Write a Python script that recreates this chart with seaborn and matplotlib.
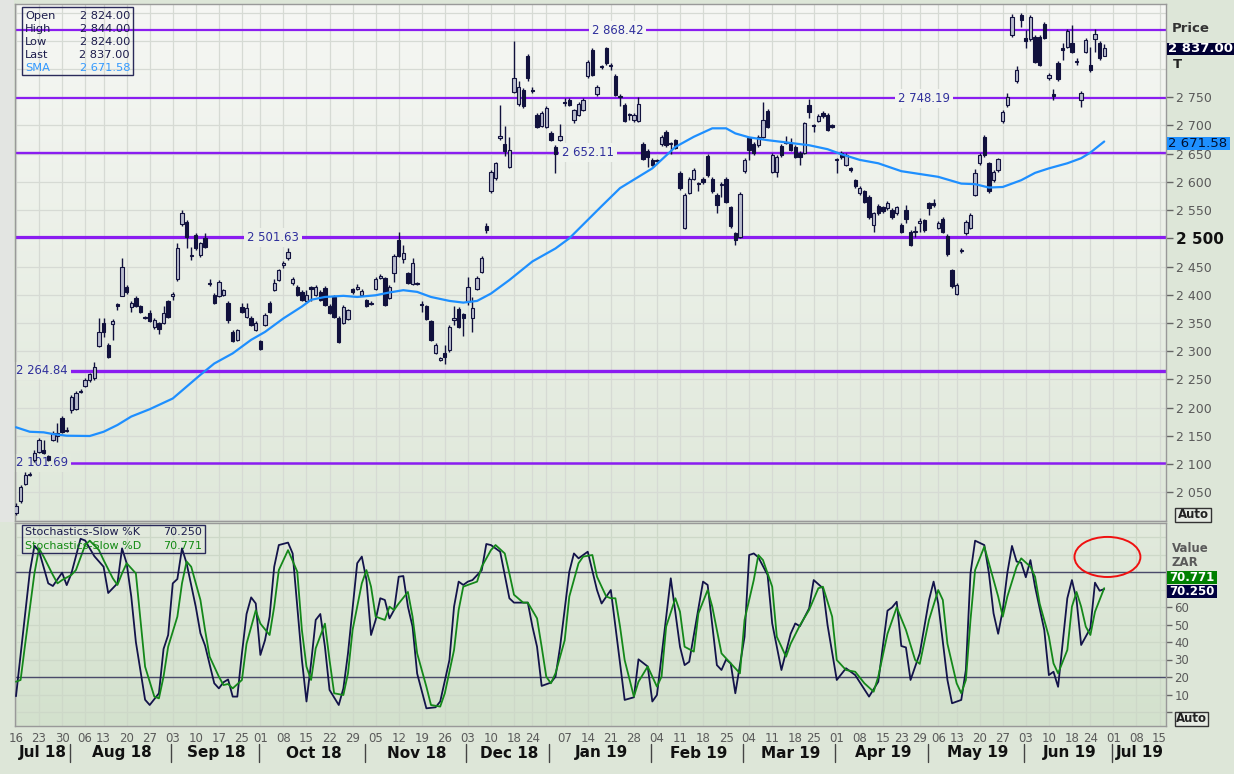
import numpy as np
import pandas as pd
import matplotlib
matplotlib.use("Agg")
import matplotlib.pyplot as plt
import matplotlib.colors as mcolors
import matplotlib.transforms as mtransforms
from matplotlib.patches import Ellipse, Rectangle
from matplotlib.lines import Line2D
import seaborn as sns

sns.set_theme(style="white")
plt.rcParams["font.family"] = ["DejaVu Sans"]

# ------------------------------------------------------------------ data
first_day = "2018-07-16"
axis_last_day = "2019-07-19"
holidays = ["2018-08-09", "2018-09-24", "2018-12-17", "2018-12-25", "2018-12-26",
            "2019-01-01", "2019-03-21", "2019-04-19", "2019-04-22", "2019-05-01",
            "2019-05-08", "2019-06-17"]

opens = [2013, 2034, 2064, 2080, 2107, 2121, 2124, 2114, 2142, 2150,
         2181, 2161, 2196, 2197, 2227, 2238, 2248, 2252, 2309, 2350,
         2311, 2348, 2383, 2398, 2414, 2378, 2394, 2380, 2360, 2368,
         2343, 2350, 2350, 2388, 2398, 2428, 2525, 2529, 2468, 2506,
         2470, 2500, 2421, 2400, 2398, 2400, 2386, 2334, 2320, 2379,
         2360, 2359, 2337, 2318, 2346, 2385, 2408, 2426, 2452, 2465,
         2421, 2414, 2405, 2388, 2413, 2400, 2405, 2412, 2380, 2396,
         2359, 2350, 2357, 2410, 2411, 2400, 2391, 2386, 2410, 2429,
         2429, 2394, 2438, 2497, 2463, 2438, 2419, 2421, 2383, 2380,
         2354, 2297, 2285, 2297, 2302, 2355, 2375, 2366, 2388, 2359,
         2410, 2441, 2521, 2583, 2607, 2677, 2667, 2627, 2760, 2738,
         2763, 2823, 2763, 2719, 2699, 2698, 2687, 2662, 2674, 2741,
         2745, 2710, 2719, 2727, 2787, 2834, 2756, 2803, 2837, 2808,
         2788, 2752, 2736, 2720, 2709, 2708, 2667, 2655, 2639, 2637,
         2667, 2689, 2668, 2674, 2616, 2518, 2581, 2606, 2598, 2605,
         2646, 2606, 2577, 2595, 2606, 2555, 2509, 2503, 2620, 2677,
         2668, 2665, 2680, 2726, 2618, 2618, 2664, 2671, 2668, 2662,
         2651, 2651, 2736, 2700, 2708, 2722, 2719, 2700, 2638, 2651,
         2630, 2624, 2603, 2580, 2583, 2573, 2524, 2557, 2555, 2553,
         2550, 2544, 2524, 2550, 2512, 2511, 2527, 2532, 2562, 2563,
         2519, 2534, 2504, 2443, 2401, 2477, 2509, 2518, 2577, 2633,
         2679, 2633, 2603, 2621, 2708, 2736, 2860, 2778, 2896, 2855,
         2853, 2857, 2857, 2880, 2784, 2755, 2811, 2837, 2840, 2847,
         2814, 2745, 2831, 2807, 2853, 2846, 2824]
highs = [2030, 2062, 2085, 2086, 2125, 2146, 2142, 2116, 2158, 2172,
         2185, 2166, 2223, 2229, 2233, 2252, 2262, 2281, 2359, 2359,
         2314, 2357, 2385, 2465, 2417, 2388, 2398, 2382, 2362, 2372,
         2358, 2352, 2380, 2391, 2405, 2491, 2550, 2532, 2485, 2510,
         2494, 2510, 2428, 2403, 2426, 2411, 2389, 2337, 2340, 2385,
         2385, 2362, 2353, 2320, 2367, 2388, 2428, 2446, 2460, 2482,
         2432, 2417, 2408, 2408, 2415, 2417, 2408, 2415, 2383, 2399,
         2362, 2382, 2375, 2412, 2419, 2410, 2393, 2388, 2431, 2436,
         2432, 2417, 2472, 2512, 2488, 2441, 2465, 2423, 2388, 2382,
         2356, 2314, 2290, 2311, 2346, 2380, 2378, 2368, 2432, 2396,
         2433, 2468, 2528, 2621, 2636, 2736, 2699, 2680, 2849, 2778,
         2766, 2826, 2768, 2722, 2726, 2734, 2690, 2665, 2703, 2748,
         2748, 2730, 2741, 2748, 2816, 2837, 2771, 2808, 2840, 2811,
         2791, 2755, 2739, 2723, 2722, 2750, 2670, 2658, 2642, 2641,
         2683, 2692, 2670, 2676, 2619, 2580, 2608, 2625, 2600, 2608,
         2649, 2609, 2580, 2599, 2609, 2558, 2512, 2582, 2642, 2680,
         2671, 2683, 2742, 2729, 2651, 2647, 2667, 2682, 2678, 2665,
         2654, 2707, 2747, 2702, 2720, 2725, 2722, 2702, 2642, 2654,
         2651, 2627, 2606, 2592, 2586, 2576, 2547, 2560, 2558, 2566,
         2553, 2558, 2527, 2559, 2515, 2521, 2536, 2535, 2565, 2569,
         2531, 2537, 2508, 2446, 2420, 2483, 2532, 2545, 2622, 2651,
         2683, 2636, 2621, 2643, 2727, 2757, 2898, 2806, 2899, 2869,
         2896, 2860, 2860, 2883, 2793, 2765, 2814, 2846, 2871, 2878,
         2820, 2761, 2855, 2840, 2871, 2849, 2844]
lows = [2010, 2031, 2062, 2078, 2104, 2119, 2117, 2105, 2140, 2139,
        2154, 2156, 2190, 2195, 2226, 2236, 2246, 2248, 2307, 2325,
        2288, 2320, 2372, 2397, 2402, 2370, 2378, 2368, 2357, 2352,
        2340, 2331, 2348, 2358, 2391, 2425, 2522, 2483, 2462, 2480,
        2467, 2483, 2415, 2383, 2396, 2398, 2349, 2316, 2318, 2368,
        2358, 2344, 2335, 2302, 2344, 2367, 2406, 2424, 2448, 2462,
        2417, 2398, 2389, 2386, 2388, 2398, 2389, 2380, 2365, 2358,
        2315, 2348, 2355, 2402, 2408, 2398, 2378, 2382, 2408, 2427,
        2380, 2392, 2423, 2467, 2456, 2419, 2417, 2417, 2370, 2355,
        2318, 2295, 2283, 2278, 2299, 2346, 2341, 2327, 2382, 2334,
        2408, 2439, 2509, 2580, 2604, 2674, 2646, 2625, 2758, 2735,
        2731, 2778, 2758, 2695, 2697, 2696, 2672, 2615, 2672, 2735,
        2734, 2704, 2717, 2725, 2785, 2787, 2753, 2801, 2808, 2798,
        2752, 2734, 2706, 2710, 2706, 2706, 2638, 2627, 2628, 2634,
        2664, 2662, 2650, 2658, 2586, 2516, 2579, 2604, 2583, 2597,
        2609, 2580, 2545, 2574, 2562, 2518, 2488, 2500, 2615, 2639,
        2648, 2662, 2678, 2695, 2615, 2609, 2645, 2667, 2655, 2642,
        2630, 2649, 2714, 2688, 2706, 2714, 2690, 2696, 2615, 2641,
        2628, 2618, 2590, 2577, 2562, 2535, 2512, 2541, 2545, 2550,
        2535, 2541, 2509, 2527, 2486, 2503, 2512, 2512, 2541, 2556,
        2516, 2509, 2469, 2412, 2399, 2474, 2506, 2516, 2575, 2630,
        2645, 2581, 2600, 2618, 2705, 2733, 2857, 2776, 2875, 2837,
        2850, 2810, 2805, 2853, 2781, 2745, 2779, 2817, 2838, 2828,
        2807, 2733, 2829, 2795, 2831, 2816, 2824]
closes = [2025, 2059, 2080, 2083, 2120, 2142, 2120, 2107, 2155, 2154,
          2157, 2159, 2219, 2226, 2229, 2248, 2259, 2272, 2333, 2333,
          2290, 2354, 2380, 2449, 2404, 2385, 2380, 2370, 2359, 2354,
          2355, 2339, 2367, 2361, 2401, 2483, 2544, 2503, 2470, 2483,
          2491, 2485, 2419, 2385, 2423, 2408, 2355, 2318, 2337, 2370,
          2376, 2346, 2350, 2304, 2364, 2370, 2421, 2443, 2456, 2476,
          2428, 2400, 2391, 2399, 2410, 2414, 2391, 2382, 2368, 2361,
          2317, 2379, 2372, 2404, 2413, 2406, 2380, 2384, 2428, 2433,
          2382, 2414, 2469, 2469, 2474, 2421, 2457, 2419, 2381, 2357,
          2320, 2311, 2288, 2289, 2343, 2358, 2343, 2359, 2414, 2376,
          2430, 2465, 2515, 2618, 2633, 2681, 2654, 2656, 2785, 2769,
          2734, 2785, 2761, 2698, 2723, 2731, 2674, 2649, 2681, 2739,
          2736, 2727, 2738, 2745, 2813, 2790, 2768, 2806, 2810, 2806,
          2754, 2750, 2708, 2718, 2719, 2738, 2640, 2645, 2630, 2639,
          2680, 2665, 2667, 2660, 2590, 2577, 2605, 2621, 2596, 2599,
          2612, 2583, 2559, 2597, 2565, 2521, 2497, 2579, 2639, 2657,
          2651, 2680, 2710, 2698, 2648, 2644, 2648, 2669, 2657, 2645,
          2644, 2704, 2724, 2699, 2717, 2717, 2692, 2698, 2640, 2644,
          2648, 2621, 2593, 2589, 2565, 2538, 2544, 2544, 2549, 2562,
          2538, 2555, 2512, 2535, 2488, 2513, 2530, 2515, 2553, 2559,
          2528, 2512, 2472, 2415, 2417, 2479, 2529, 2541, 2616, 2648,
          2648, 2584, 2618, 2640, 2724, 2751, 2893, 2798, 2887, 2849,
          2893, 2813, 2807, 2855, 2790, 2753, 2782, 2834, 2868, 2831,
          2812, 2758, 2852, 2798, 2862, 2819, 2837]

sma_idx = [0, 3, 6, 8, 11, 16, 19, 22, 25, 29, 34, 37, 40, 43, 47, 51, 54, 58,
           62, 64, 67, 71, 74, 78, 81, 84, 87, 90, 94, 97, 100, 103, 107, 112,
           117, 120, 127, 131, 135, 138, 143, 147, 151, 154, 156, 159, 163, 167,
           172, 176, 179, 183, 187, 192, 196, 200, 205, 208, 211, 214, 218, 221,
           224, 228, 231, 233, 236]
sma_val = [2165, 2157, 2156, 2153, 2150, 2149.5, 2157, 2169, 2184, 2197, 2216,
           2237, 2258, 2278, 2296, 2320, 2334, 2358, 2379, 2391, 2396, 2398,
           2396, 2399, 2404, 2408, 2405, 2396, 2389, 2386, 2389, 2402, 2426,
           2459, 2482, 2500, 2557, 2589, 2609, 2624, 2662, 2680, 2695, 2695,
           2686, 2679, 2674, 2670, 2665, 2658, 2649, 2639, 2633, 2619, 2614,
           2609, 2597, 2596, 2590, 2591, 2603, 2616, 2624, 2633, 2642, 2652,
           2671.58]

k_idx = [0, 3, 4, 5, 7, 8, 10, 11, 12, 13, 14, 15, 17, 19, 20, 22, 23, 24, 25,
         26, 28, 29, 31, 32, 33, 34, 35, 36, 37, 39, 40, 41, 43, 44, 45, 46, 47,
         48, 49, 50, 51, 52, 53, 54, 55, 56, 57, 59, 60, 61, 62, 63, 64, 65, 66,
         67, 68, 70, 71, 72, 74, 75, 76, 77, 78, 79, 80, 81, 82, 83, 84, 85, 86,
         87, 89, 91, 92, 94, 95, 96, 97, 98, 99, 101, 102, 103, 105, 106, 107,
         108, 111, 112, 113, 114, 116, 117, 118, 120, 121, 122, 124, 126, 127,
         129, 132, 134, 135, 137, 138, 139, 142, 144, 145, 146, 149, 150, 152,
         153, 154, 155, 156, 158, 159, 160, 161, 163, 164, 166, 168, 169, 170,
         172, 173, 175, 176, 178, 180, 182, 185, 187, 189, 190, 191, 192, 193,
         194, 196, 198, 199, 200, 202, 203, 205, 206, 207, 208, 210, 211, 212,
         213, 214, 215, 216, 217, 218, 219, 220, 221, 223, 224, 225, 226, 228,
         229, 230, 231, 233, 234, 235, 236]
k_val = [9, 80, 95, 92, 73.5, 72, 79.6, 72.5, 79, 89, 99, 98, 89, 83, 68, 73.5,
         93.5, 85, 66, 40, 7, 4, 10.7, 36, 44, 73.5, 76, 93.5, 85, 60, 45, 38,
         16.4, 13.5, 17, 18.6, 8.8, 8.8, 33.5, 56, 65.5, 62, 32.6, 41, 54.5, 83,
         95.4, 96.8, 90.6, 60, 30, 6, 28, 52.6, 56, 37.3, 12.6, 4, 13.5, 33.5,
         85, 88.8, 75.5, 44, 52.6, 65, 64, 53.5, 58.3, 77.3, 77.7, 60.2, 48.8,
         22, 2.1, 2.7, 6, 29.7, 60.2, 74.5, 72.6, 74.5, 75.4, 81, 96, 95.4, 91.6,
         78.3, 65, 62.5, 62.5, 48.8, 37.3, 14.9, 16.8, 20.2, 37.3, 80.2, 90.6,
         87.8, 91.6, 69.7, 62, 69.7, 6.9, 8.4, 30.1, 26, 6, 9.7, 76.4, 37.3,
         26.8, 28.7, 74.5, 72.6, 26.8, 24, 30, 27.8, 10.7, 43, 89.7, 90.6, 88.4,
         78.3, 50.6, 24, 44.7, 50.6, 49, 59.2, 75.4, 70.7, 49.7, 18.3, 25, 21.1,
         8.8, 17.3, 57.9, 59.8, 63, 37.7, 36.9, 18.3, 33.5, 64, 74.5, 62, 18.3,
         5, 6.9, 24, 79.2, 97.9, 95.4, 79.2, 56.4, 44.7, 58.3, 79.6, 94.9, 86,
         85.3, 77, 86.8, 71.6, 46.9, 21.1, 23, 14.4, 65, 75.4, 64, 38.3, 47.9,
         73.9, 69.3, 70.25]

d_idx = [0, 1, 2, 4, 5, 6, 8, 9, 10, 12, 13, 15, 16, 18, 19, 21, 22, 23, 24,
         26, 27, 28, 30, 31, 32, 33, 35, 36, 37, 38, 40, 41, 42, 44, 45, 46, 47,
         49, 50, 52, 53, 55, 56, 57, 59, 61, 62, 63, 64, 65, 67, 68, 69, 71, 72,
         73, 75, 76, 77, 78, 80, 81, 82, 83, 85, 86, 87, 89, 90, 92, 93, 95, 96,
         97, 98, 100, 101, 103, 104, 106, 107, 108, 110, 111, 113, 114, 115, 116,
         117, 119, 120, 122, 123, 125, 126, 128, 129, 130, 131, 132, 134, 135,
         137, 139, 140, 141, 143, 144, 145, 147, 148, 150, 151, 153, 155, 157,
         158, 160, 161, 162, 164, 165, 167, 168, 170, 172, 174, 175, 177, 178,
         180, 182, 184, 186, 187, 189, 191, 193, 195, 196, 198, 200, 201, 202,
         204, 205, 206, 207, 208, 210, 211, 213, 214, 215, 217, 218, 220, 221,
         222, 224, 225, 226, 228, 229, 230, 231, 232, 233, 234, 236]
d_val = [17.3, 18.3, 39, 79.2, 93.5, 88.8, 78.3, 73.5, 75.4, 78.3, 81.1, 95.4,
         97.9, 92.5, 86.8, 76.4, 72.6, 79.2, 85, 79.2, 52.6, 25.9, 8.8, 7.8, 20.2,
         37.3, 54.5, 73.5, 86, 83, 64, 46.9, 31.6, 20.2, 15.4, 16, 13.5, 18.3,
         39, 58.1, 50.5, 44, 60.2, 81.1, 92.5, 80.2, 46.9, 25.9, 18.3, 36.4,
         50.5, 29.7, 10.7, 9.7, 22.1, 46.9, 73.5, 81.1, 71.6, 54.5, 52.6, 60.2,
         58.3, 62, 68.6, 54.5, 33.5, 14.5, 4, 3.1, 10.7, 35.4, 58.3, 71.6, 72.6,
         74.5, 83, 92.5, 95.4, 90.6, 79.2, 67, 62.5, 62.5, 53.5, 37.3, 20.2,
         16.4, 22.1, 41, 66, 85, 88.8, 89.7, 77.3, 66, 65, 65, 48.8, 29.7, 8.8,
         17.3, 26, 14.5, 20.2, 48.8, 65, 57.3, 37.3, 34.5, 56.4, 69.7, 60.2,
         33.5, 27.8, 22.1, 52.6, 75.4, 89.7, 86.8, 71.6, 43, 31.6, 39, 49.5,
         58.3, 70.7, 71.6, 54.5, 29.7, 24, 23, 16.4, 11.6, 20.2, 44.7, 59.8,
         46.9, 29.7, 27.5, 52.6, 69.7, 64, 39, 16.4, 10.7, 18.3, 52.6, 81.1,
         94.5, 85, 66, 54.5, 66, 83, 87.8, 83, 77.3, 62, 43, 27.8, 22.1, 35.4,
         60.2, 68.6, 60.2, 48.8, 44, 57.3, 70.771]

level_values = [2868.42, 2748.19, 2652.11, 2501.63, 2264.84, 2101.69]
price_ticks = [2050, 2100, 2150, 2200, 2250, 2300, 2350, 2400, 2450, 2500,
               2550, 2600, 2650, 2700, 2750]
stoch_ticks = [0, 10, 20, 30, 40, 50, 60]
legend_names = ["Open", "High", "Low", "Last", "SMA"]
legend_values = [2824.00, 2844.00, 2824.00, 2837.00, 2671.58]
stoch_names = ["Stochastics-Slow %K", "Stochastics-Slow %D"]
stoch_last = [70.250, 70.771]

# ------------------------------------------------------------------ helpers
W, H = 1234, 774
def fx(px):
    return px / W
def fy(py):
    return 1 - py / H
def sp(v, d=2):
    return f"{v:,.{d}f}".replace(",", " ")

days = pd.bdate_range(first_day, axis_last_day)
days = days[~days.isin(pd.to_datetime(holidays))]
n = len(closes)
xs = np.arange(n)
df = pd.DataFrame({"x": xs, "open": opens, "high": highs, "low": lows, "close": closes})

XL = (-0.3, 249.4)
PY = (1998.8, 2915.4)
SY = (-8, 108)
NAVY = "#11113d"
HOLLOW = "#b9bccd"
PURPLE = "#8a1df0"
GRID = "#d6dad4"

fig = plt.figure(figsize=(12.34, 7.74), dpi=100, facecolor="#dde6d8")
fig.add_artist(Rectangle((0, fy(522)), fx(14), 1 - fy(522), transform=fig.transFigure,
                         facecolor="#e3e5e2", edgecolor="none", zorder=-1))
axp = fig.add_axes([fx(14.6), fy(521), fx(1166) - fx(14.6), fy(4) - fy(521)])
axs = fig.add_axes([fx(14.6), fy(726), fx(1166) - fx(14.6), fy(523) - fy(726)])

BG_P = ("#f6f7f4", "#dfe8da")
BG_S = ("#e2eadd", "#d3e1cd")

def gradient(ax, top, bottom, ylim):
    cmap = mcolors.LinearSegmentedColormap.from_list("g", [bottom, top])
    ax.imshow(np.linspace(0, 1, 256).reshape(-1, 1),
              extent=[XL[0], XL[1], ylim[0], ylim[1]], origin="lower",
              cmap=cmap, aspect="auto", zorder=0, interpolation="bilinear")

def bg_at(v, ylim, top, bottom):
    f = (v - ylim[0]) / (ylim[1] - ylim[0])
    t = np.array(mcolors.to_rgb(top)); b = np.array(mcolors.to_rgb(bottom))
    return tuple(b + f * (t - b))

# week ticks and months
iso = days.isocalendar()
week_key = list(zip(iso.year, iso.week))
tick_idx = [i for i in range(len(days)) if i == 0 or week_key[i] != week_key[i - 1]]
tick_idx = [i for i in tick_idx if i <= XL[1]]
tick_lab = ["" if days[i] == pd.Timestamp("2018-12-31") else days[i].strftime("%d")
            for i in tick_idx]
month_start = [i for i in range(len(days)) if i == 0 or days[i].month != days[i - 1].month]
month_start = [i for i in month_start if i <= XL[1]]

# ------------------------------------------------------------------ price panel
gradient(axp, BG_P[0], BG_P[1], PY)
for t in tick_idx:
    axp.axvline(t, color=GRID, lw=0.9, zorder=1)
for g in np.arange(2000, 2901, 50):
    axp.axhline(g, color=GRID, lw=0.9, zorder=1)

lws = [1.6, 1.6, 1.7, 2.3, 2.4, 1.8]
for v, lw in zip(level_values, lws):
    axp.axhline(v, color=PURPLE, lw=lw, zorder=2)

label_x = [130.5, 197, 124, 55.7, 0.1, 0.1]
label_ha = ["center", "center", "center", "center", "left", "left"]
for v, lx, ha in zip(level_values, label_x, label_ha):
    axp.text(lx, v, sp(v), ha=ha, va="center", fontsize=8.4, color="#2f2f9c", zorder=2.5,
             bbox=dict(boxstyle="square,pad=0.25", fc=bg_at(v, PY, *BG_P), ec="none"))

up = df["close"] >= df["open"]
body_lo = np.minimum(df["open"], df["close"])
body_h = np.maximum((df["close"] - df["open"]).abs(), 1.6)
axp.vlines(df["x"], df["low"], df["high"], color=NAVY, lw=1.0, zorder=3)
axp.bar(df["x"], body_h, bottom=body_lo, width=0.72,
        color=np.where(up, HOLLOW, NAVY), edgecolor=NAVY, linewidth=0.8, zorder=4)

sns.lineplot(x=sma_idx, y=sma_val, ax=axp, color="#1e8fff", lw=1.6, zorder=5)

axp.set_xlim(*XL)
axp.set_ylim(*PY)
axp.set_xticks([])
axp.yaxis.tick_right()
axp.set_yticks(price_ticks)
axp.set_yticklabels([sp(v, 0) for v in price_ticks])
axp.tick_params(axis="y", direction="out", length=5, width=1, color="#666",
                pad=2, labelsize=9, labelcolor="#5a5a5a")
for lab, v in zip(axp.get_yticklabels(), price_ticks):
    if v == 2500:
        lab.set_fontweight("bold"); lab.set_fontsize(11); lab.set_color("#111")
for s in axp.spines.values():
    s.set_color("#999"); s.set_linewidth(1)
axp.set_xlabel(""); axp.set_ylabel("")

# ------------------------------------------------------------------ stochastic panel
gradient(axs, BG_S[0], BG_S[1], SY)
for t in tick_idx:
    axs.axvline(t, color="#cdd8c8", lw=0.9, zorder=1)
for g in range(0, 101, 10):
    axs.axhline(g, color="#cdd8c8", lw=0.9, zorder=1)
axs.axhline(80, color="#4a4a6a", lw=1.0, zorder=2)
axs.axhline(20, color="#4a4a6a", lw=1.0, zorder=2)
sns.lineplot(x=k_idx, y=k_val, ax=axs, color="#13134a", lw=1.3, zorder=4)
sns.lineplot(x=d_idx, y=d_val, ax=axs, color="#14881a", lw=1.3, zorder=5)
axs.add_patch(Ellipse((236.7, 88.6), 14.3, 22.9, fill=False, edgecolor="#f01010",
                      lw=1.4, zorder=6, clip_on=False))
axs.set_xlim(*XL)
axs.set_ylim(*SY)
axs.yaxis.tick_right()
axs.set_yticks(stoch_ticks)
axs.set_yticklabels(["" if v == 0 else str(v) for v in stoch_ticks])
axs.tick_params(axis="y", direction="out", length=4, width=1, color="#666",
                pad=2, labelsize=8.5, labelcolor="#5a5a5a")
axs.set_xticks(tick_idx)
axs.set_xticklabels(tick_lab)
axs.tick_params(axis="x", direction="out", length=3, width=0.8, color="#777",
                pad=1.5, labelsize=8.5, labelcolor="#5a5a5a")
for s in axs.spines.values():
    s.set_color("#999"); s.set_linewidth(1)
axs.set_xlabel(""); axs.set_ylabel("")

# month labels and separators
trans = mtransforms.blended_transform_factory(axs.transData, fig.transFigure)
bounds = month_start + [XL[1]]
for j, m in enumerate(month_start):
    left = XL[0] if j == 0 else m
    cx = (left + bounds[j + 1]) / 2
    axs.text(cx, fy(753), days[m].strftime("%b %y"), transform=trans, ha="center",
             va="center", fontsize=11, fontweight="bold", color="#111", clip_on=False)
    if j > 0:
        axs.add_line(Line2D([m - 0.3, m - 0.3], [fy(744), fy(762)], transform=trans,
                            color="#444", lw=1, clip_on=False))

# ------------------------------------------------------------------ legends / side boxes
def box(x0, y0, x1, y1, fc, ec="none", lw=1.0):
    fig.add_artist(Rectangle((fx(x0), fy(y1)), fx(x1) - fx(x0), fy(y0) - fy(y1),
                             transform=fig.transFigure, facecolor=fc, edgecolor=ec,
                             lw=lw, zorder=20))

box(22, 7, 133, 75, "none", "#2a2a5a")
rows_y = [16, 29, 42, 55, 68]
for name, val, ry in zip(legend_names, legend_values, rows_y):
    c = "#3399ff" if name == "SMA" else "#1c1c4c"
    fig.text(fx(25), fy(ry), name, fontsize=8.2, color=c, va="center", zorder=21)
    fig.text(fx(130), fy(ry), sp(val), fontsize=8.2, color=c, va="center", ha="right", zorder=21)

box(22, 525, 205, 553, "none", "#2a2a5a")
for name, val, ry, c in zip(stoch_names, stoch_last, [532, 546], ["#1c1c4c", "#138a13"]):
    fig.text(fx(25), fy(ry), name, fontsize=8, color=c, va="center", zorder=21)
    fig.text(fx(202), fy(ry), f"{val:.3f}", fontsize=8, color=c, va="center", ha="right", zorder=21)

fig.text(fx(1172), fy(29), "Price", fontsize=9.5, fontweight="bold", color="#333", va="center")
box(1167, 43, 1234, 55, "#000033")
fig.text(fx(1168), fy(49), sp(legend_values[3]), fontsize=9.5, fontweight="bold",
         color="white", va="center", zorder=21)
fig.text(fx(1173), fy(65), "T", fontsize=9.5, fontweight="bold", color="#222", va="center")
box(1167, 137, 1230, 150, "#1e90ff")
fig.text(fx(1168), fy(143.5), sp(legend_values[4]), fontsize=9.5, color="#001030",
         va="center", zorder=21)
box(1175, 508, 1211, 522, "#e6ebe3", "#333")
fig.text(fx(1193), fy(515), "Auto", fontsize=8.5, fontweight="bold", color="#222",
         ha="center", va="center", zorder=21)

fig.text(fx(1172), fy(548), "Value", fontsize=8.5, fontweight="bold", color="#5a5a5a", va="center")
fig.text(fx(1172), fy(563), "ZAR", fontsize=8.5, fontweight="bold", color="#5a5a5a", va="center")
box(1167, 571, 1217, 584, "#008000")
fig.text(fx(1169), fy(577.5), f"{stoch_last[1]:.3f}", fontsize=8.5, fontweight="bold",
         color="white", va="center", zorder=21)
box(1167, 585, 1217, 598, "#000040")
fig.text(fx(1169), fy(591.5), f"{stoch_last[0]:.3f}", fontsize=8.5, fontweight="bold",
         color="white", va="center", zorder=21)
box(1175, 712, 1208, 726, "#e6ebe3", "#333")
fig.text(fx(1191.5), fy(719), "Auto", fontsize=8.5, fontweight="bold", color="#222",
         ha="center", va="center", zorder=21)

fig.savefig("out.png", dpi=100, facecolor=fig.get_facecolor())
